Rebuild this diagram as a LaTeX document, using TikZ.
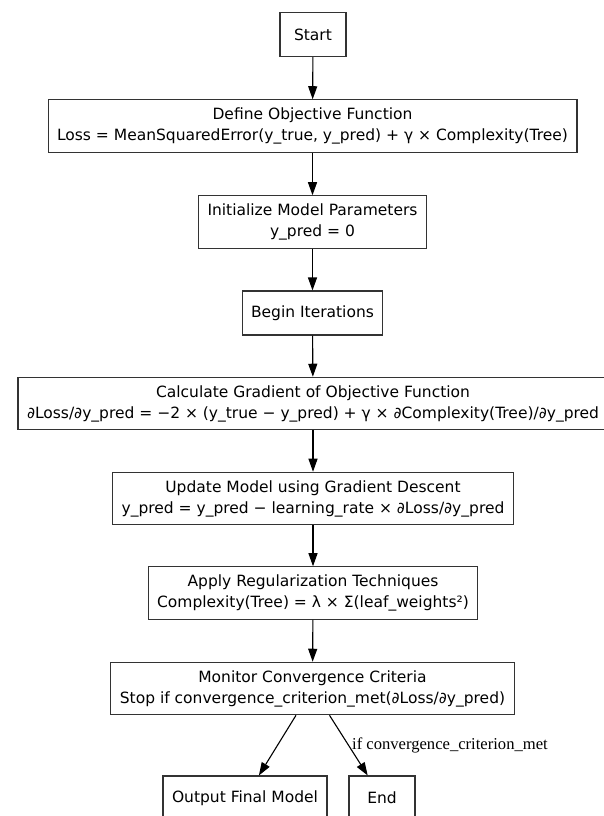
\documentclass[tikz,border=0pt]{standalone}
\usepackage{fontspec}
\setsansfont{DejaVu Sans}
\newfontfamily\lblfont{Liberation Serif}
\usetikzlibrary{arrows.meta}
\tikzset{
 flownode/.style = {align=center, inner sep=0pt, text centered,
    font=\sffamily\fontsize{15.5}{21}\selectfont},
  fc_n/.style = {flownode, rectangle, draw=black!80, line width=1.1pt,
    inner xsep=9pt, inner ysep=8pt, minimum height=44pt},% noeud du flux
  fc_t/.style = {fc_n, minimum width=66pt},% debut, fin
  fc_l/.style = {font=\lblfont\fontsize{16.6}{18}\selectfont, inner sep=3pt}% etiquette
}
\begin{document}
\begin{tikzpicture}[x=1pt,y=-1pt,->,>={Triangle[length=13pt,width=9pt]},
  line width=1.1pt]
  \useasboundingbox (0,0) rectangle (603,816);
  \node [fc_t] (start) at (313,34.5) {Start};
  \node [fc_n] (objfn) at (312.5,126) {Define Objective Function\\
    Loss = MeanSquaredError(y\_true, y\_pred) + γ × Complexity(Tree)};
  \node [fc_n] (initp) at (312.5,222) {Initialize Model Parameters\\ y\_pred = 0};
  \node [fc_n] (begit) at (312.5,313) {Begin Iterations};
  \node [fc_n] (calcg) at (313,403.5) {Calculate Gradient of Objective Function\\
    ∂Loss/∂y\_pred = −2 × (y\_true − y\_pred) + γ × ∂Complexity(Tree)/∂y\_pred};
  \node [fc_n] (updm) at (313,498.5) {Update Model using Gradient Descent\\
    y\_pred = y\_pred − learning\_rate × ∂Loss/∂y\_pred};
  \node [fc_n] (regt) at (313,593) {Apply Regularization Techniques\\
    Complexity(Tree) = λ × Σ(leaf\_weights²)};
  \node [fc_n] (monc) at (312.5,688.5) {Monitor Convergence Criteria\\
    Stop if convergence\_criterion\_met(∂Loss/∂y\_pred)};
  \node [fc_n] (outm) at (245,798) {Output Final Model};
  \node [fc_t] (fin) at (382,798) {End};
  % liens
  \draw (start) -- (objfn);
  \draw (objfn) -- (initp);
  \draw (initp) -- (begit);
  \draw (begit) -- (calcg);
  \draw (calcg) -- (updm);
  \draw (updm) -- (regt);
  \draw (regt) -- (monc);
  \draw (monc) -- (outm);
  \draw (monc) -- node [fc_l, pos=0.5, anchor=west] {if convergence\_criterion\_met} (fin);
\end{tikzpicture}
\end{document}
